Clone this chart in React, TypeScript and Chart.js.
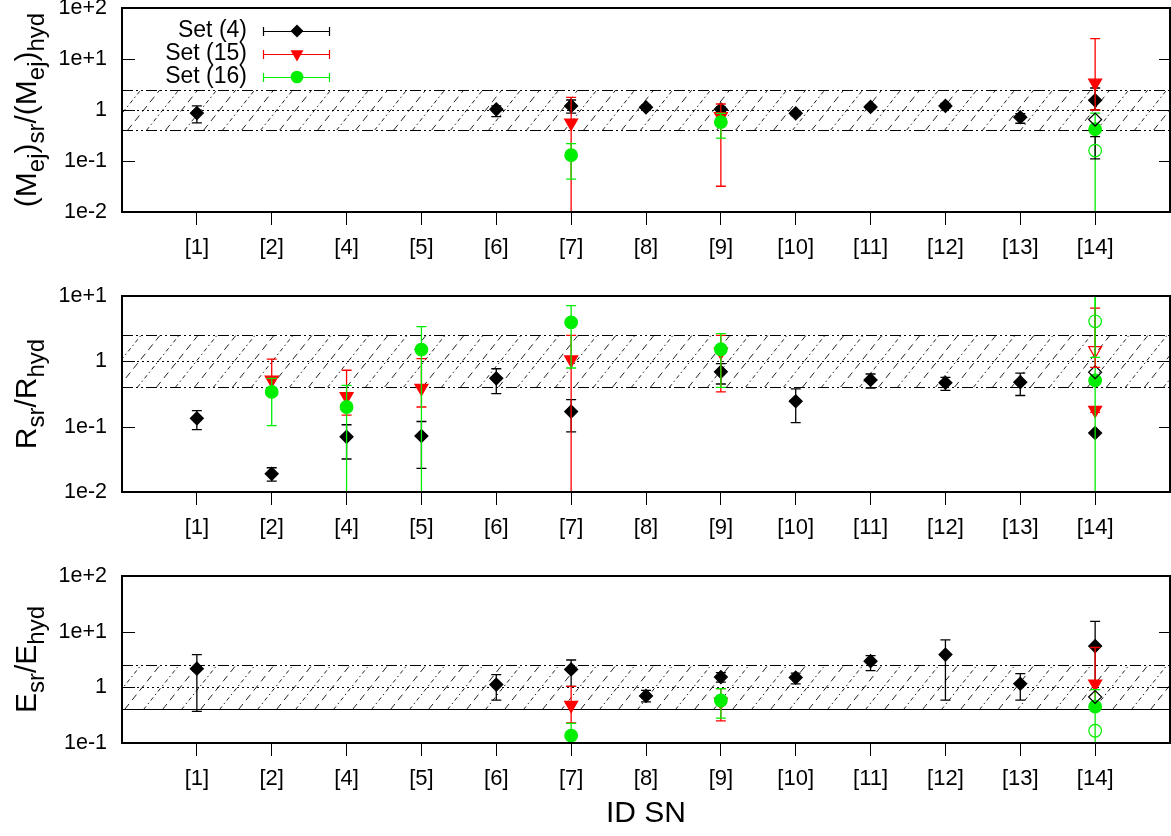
import React, { useEffect, useRef } from 'react';
import { Chart, registerables } from 'chart.js';

Chart.register(...registerables);

const FONT = '"Liberation Sans", Arial, Helvetica, sans-serif';

// ---------- categories & ticks ----------
const categories = ['[1]', '[2]', '[4]', '[5]', '[6]', '[7]', '[8]', '[9]', '[10]', '[11]', '[12]', '[13]', '[14]'];
const mTickValues = [0.01, 0.1, 1, 10, 100];
const mTickLabels = ['1e-2', '1e-1', '1', '1e+1', '1e+2'];
const rTickValues = [0.01, 0.1, 1, 10];
const rTickLabels = ['1e-2', '1e-1', '1', '1e+1'];
const eTickValues = [0.1, 1, 10, 100];
const eTickLabels = ['1e-1', '1', '1e+1', '1e+2'];
const legendLabels = ['Set (4)', 'Set (15)', 'Set (16)'];
const xTitle = 'ID SN';
const bandLow = 0.4;
const bandMid = 1;
const bandHigh = 2.5;

// ---------- panel 1 : (Mej)sr/(Mej)hyd ----------
const mSet4 = [0.87, null, null, null, 1.03, 1.2, 1.13, 1.03, 0.86, 1.15, 1.2, 0.72, 1.55];
const mSet4Lo = [0.56, null, null, null, 0.74, 0.87, 1.0, 0.9, 0.78, 1.05, 1.1, 0.55, 1.0];
const mSet4Hi = [1.2, null, null, null, 1.2, 1.57, 1.25, 1.15, 0.95, 1.25, 1.35, 0.85, 2.7];
const mSet15 = [null, null, null, null, null, 0.56, null, 0.75, null, null, null, null, 3.4];
const mSet15Lo = [null, null, null, null, null, 0.001, null, 0.032, null, null, null, null, 1.0];
const mSet15Hi = [null, null, null, null, null, 1.77, null, 1.31, null, null, null, null, 25];
const mSet16 = [null, null, null, null, null, 0.13, null, 0.58, null, null, null, null, 0.42];
const mSet16Lo = [null, null, null, null, null, 0.044, null, 0.28, null, null, null, null, 0.001];
const mSet16Hi = [null, null, null, null, null, 0.22, null, 0.86, null, null, null, null, 0.87];
const mOpen4 = [null, null, null, null, null, null, null, null, null, null, null, null, 0.65];
const mOpen16 = [null, null, null, null, null, null, null, null, null, null, null, null, 0.16];
const mOpen16Lo = [null, null, null, null, null, null, null, null, null, null, null, null, 0.11];
const mOpen16Hi = [null, null, null, null, null, null, null, null, null, null, null, null, 0.3];

// ---------- panel 2 : Rsr/Rhyd ----------
const rSet4 = [0.134, 0.019, 0.07, 0.072, 0.55, 0.17, null, 0.69, 0.245, 0.52, 0.47, 0.48, 0.08];
const rSet4Lo = [0.09, 0.0147, 0.032, 0.023, 0.32, 0.083, null, 0.45, 0.115, 0.39, 0.36, 0.3, null];
const rSet4Hi = [0.176, 0.0235, 0.107, 0.12, 0.77, 0.26, null, 0.92, 0.38, 0.64, 0.57, 0.66, null];
const rSet15 = [null, 0.52, 0.29, 0.39, null, 1.06, null, 1.4, null, null, null, null, 0.18];
const rSet15Lo = [null, 0.35, 0.15, 0.2, null, 0.001, null, 0.34, null, null, null, null, 0.166];
const rSet15Hi = [null, 1.08, 0.73, 1.1, null, 2.5, null, 2.5, null, null, null, null, 0.2];
const rSet16 = [null, 0.34, 0.2, 1.51, null, 3.94, null, 1.53, null, null, null, null, 0.51];
const rSet16Lo = [null, 0.104, 0.001, 0.001, null, 0.79, null, 0.4, null, null, null, null, 0.001];
const rSet16Hi = [null, 0.55, 0.43, 3.4, null, 7.1, null, 2.66, null, null, null, null, 100];
const rOpen4 = [null, null, null, null, null, null, null, null, null, null, null, null, 0.68];
const rOpen15 = [null, null, null, null, null, null, null, null, null, null, null, null, 1.47];
const rOpen15Lo = [null, null, null, null, null, null, null, null, null, null, null, null, 0.81];
const rOpen15Hi = [null, null, null, null, null, null, null, null, null, null, null, null, 6.5];
const rOpen16 = [null, null, null, null, null, null, null, null, null, null, null, null, 4.1];
const rOpen16Lo = [null, null, null, null, null, null, null, null, null, null, null, null, 1.15];
const rOpen16Hi = [null, null, null, null, null, null, null, null, null, null, null, null, 100];

// ---------- panel 3 : Esr/Ehyd ----------
const eSet4 = [2.16, null, null, null, 1.12, 2.1, 0.7, 1.53, 1.5, 2.95, 3.88, 1.16, 5.5];
const eSet4Lo = [0.37, null, null, null, 0.59, 1.04, 0.55, 1.24, 1.15, 2.0, 0.59, 0.59, 1.2];
const eSet4Hi = [3.88, null, null, null, 1.69, 3.1, 0.88, 1.83, 1.8, 3.7, 7.1, 1.76, 15.3];
const eSet15 = [null, null, null, null, null, 0.48, null, 0.55, null, null, null, null, 1.16];
const eSet15Lo = [null, null, null, null, null, 0.23, null, 0.25, null, null, null, null, 0.52];
const eSet15Hi = [null, null, null, null, null, 1.04, null, 0.95, null, null, null, null, 5.2];
const eSet16 = [null, null, null, null, null, 0.135, null, 0.58, null, null, null, null, 0.45];
const eSet16Lo = [null, null, null, null, null, 0.01, null, 0.28, null, null, null, null, 0.01];
const eSet16Hi = [null, null, null, null, null, 0.225, null, 0.95, null, null, null, null, 0.91];
const eOpen4 = [null, null, null, null, null, null, null, null, null, null, null, null, 0.67];
const eOpen16 = [null, null, null, null, null, null, null, null, null, null, null, null, 0.166];

const none = categories.map(() => null);

type Part = { t: string; sub?: boolean };
const mTitle: Part[] = [{ t: '(M' }, { t: 'ej', sub: true }, { t: ')' }, { t: 'sr', sub: true }, { t: '/(M' }, { t: 'ej', sub: true }, { t: ')' }, { t: 'hyd', sub: true }];
const rTitle: Part[] = [{ t: 'R' }, { t: 'sr', sub: true }, { t: '/R' }, { t: 'hyd', sub: true }];
const eTitle: Part[] = [{ t: 'E' }, { t: 'sr', sub: true }, { t: '/E' }, { t: 'hyd', sub: true }];

// ---------- styles ----------
const RED = '#ff0000';
const GREEN = '#00ee00';
const BLACK = '#000000';
const styles: Record<string, any> = {
  s4: { pointStyle: 'rectRot', radius: 6.5, rotation: 0, color: BLACK, hollow: false },
  s15: { pointStyle: 'triangle', radius: 7.5, rotation: 180, color: RED, hollow: false },
  s16: { pointStyle: 'circle', radius: 6.3, rotation: 0, color: GREEN, hollow: false },
  o4: { pointStyle: 'rectRot', radius: 6.5, rotation: 0, color: BLACK, hollow: true },
  o15: { pointStyle: 'triangle', radius: 7.5, rotation: 180, color: RED, hollow: true },
  o16: { pointStyle: 'circle', radius: 6.3, rotation: 0, color: GREEN, hollow: true },
};

function pts(values: any[], lo: any[], hi: any[]) {
  const out: any[] = [];
  values.forEach((v, i) => {
    if (v == null) return;
    out.push({ x: i + 1, y: v, lo: lo[i], hi: hi[i] });
  });
  return out;
}

function ds(label: string, key: string, values: any[], lo: any[], hi: any[], order: number, errColor?: string) {
  const s = styles[key];
  return {
    type: 'scatter',
    label,
    data: pts(values, lo, hi),
    showLine: false,
    pointStyle: s.pointStyle,
    pointRadius: s.radius,
    pointRotation: s.rotation,
    pointBackgroundColor: s.hollow ? 'rgba(0,0,0,0)' : s.color,
    pointBorderColor: s.color,
    pointBorderWidth: 1.2,
    errColor: errColor || s.color,
    order,
  };
}

const panels = [
  {
    id: 'm', top: 0, height: 270, areaTop: 8, areaBottom: 212,
    yMin: 0.01, yMax: 100, tickValues: mTickValues, tickLabels: mTickLabels, title: mTitle,
    legend: true, showXTitle: false, solidBottom: false,
    datasets: [
      ds(legendLabels[0], 's4', mSet4, mSet4Lo, mSet4Hi, 5),
      ds(legendLabels[1], 's15', mSet15, mSet15Lo, mSet15Hi, 4),
      ds(legendLabels[2], 's16', mSet16, mSet16Lo, mSet16Hi, 3),
      ds('open 4', 'o4', mOpen4, none, none, 2),
      ds('open 16', 'o16', mOpen16, mOpen16Lo, mOpen16Hi, 0, BLACK),
    ],
  },
  {
    id: 'r', top: 270, height: 280, areaTop: 296, areaBottom: 492,
    yMin: 0.01, yMax: 10, tickValues: rTickValues, tickLabels: rTickLabels, title: rTitle,
    legend: false, showXTitle: false, solidBottom: false,
    datasets: [
      ds(legendLabels[0], 's4', rSet4, rSet4Lo, rSet4Hi, 5),
      ds(legendLabels[1], 's15', rSet15, rSet15Lo, rSet15Hi, 4),
      ds(legendLabels[2], 's16', rSet16, rSet16Lo, rSet16Hi, 3),
      ds('open 4', 'o4', rOpen4, none, none, 2),
      ds('open 15', 'o15', rOpen15, rOpen15Lo, rOpen15Hi, 1),
      ds('open 16', 'o16', rOpen16, rOpen16Lo, rOpen16Hi, 0),
    ],
  },
  {
    id: 'e', top: 550, height: 286, areaTop: 576, areaBottom: 743,
    yMin: 0.1, yMax: 100, tickValues: eTickValues, tickLabels: eTickLabels, title: eTitle,
    legend: false, showXTitle: true, solidBottom: true,
    datasets: [
      ds(legendLabels[0], 's4', eSet4, eSet4Lo, eSet4Hi, 5),
      ds(legendLabels[1], 's15', eSet15, eSet15Lo, eSet15Hi, 4),
      ds(legendLabels[2], 's16', eSet16, eSet16Lo, eSet16Hi, 3),
      ds('open 4', 'o4', eOpen4, none, none, 2),
      ds('open 16', 'o16', eOpen16, none, none, 0),
    ],
  },
];

// ---------- drawing helpers ----------
function drawRich(ctx: CanvasRenderingContext2D, parts: Part[], x: number, cy: number) {
  const size = 30, subSize = 24, shift = 8;
  const fontOf = (sub?: boolean) => `${sub ? subSize : size}px ${FONT}`;
  ctx.save();
  ctx.translate(x, cy);
  ctx.rotate(-Math.PI / 2);
  let total = 0;
  for (const p of parts) { ctx.font = fontOf(p.sub); total += ctx.measureText(p.t).width; }
  let pos = -total / 2;
  ctx.fillStyle = '#000';
  ctx.textAlign = 'left';
  ctx.textBaseline = 'alphabetic';
  for (const p of parts) {
    ctx.font = fontOf(p.sub);
    ctx.fillText(p.t, pos, p.sub ? shift : 0);
    pos += ctx.measureText(p.t).width;
  }
  ctx.restore();
}

function drawMarker(ctx: CanvasRenderingContext2D, key: string, x: number, y: number) {
  const s = styles[key];
  const r = s.radius;
  ctx.beginPath();
  if (s.pointStyle === 'rectRot') {
    ctx.moveTo(x - r, y); ctx.lineTo(x, y - r); ctx.lineTo(x + r, y); ctx.lineTo(x, y + r); ctx.closePath();
  } else if (s.pointStyle === 'triangle') {
    const h = r * Math.sqrt(3) / 2;
    ctx.moveTo(x - h, y - r / 2); ctx.lineTo(x + h, y - r / 2); ctx.lineTo(x, y + r); ctx.closePath();
  } else {
    ctx.arc(x, y, r, 0, Math.PI * 2);
  }
  ctx.fillStyle = s.color;
  ctx.fill();
}

function drawBand(ctx: CanvasRenderingContext2D, a: any, ys: any, solidBottom: boolean) {
  const yT = ys.getPixelForValue(bandHigh);
  const yB = ys.getPixelForValue(bandLow);
  const yM = ys.getPixelForValue(bandMid);
  const h = yB - yT;
  ctx.save();
  ctx.beginPath();
  ctx.rect(a.left, yT, a.right - a.left, h);
  ctx.clip();
  ctx.lineWidth = 1;
  ctx.strokeStyle = '#222';
  const slope = 0.8, step = 19;
  let k = 0;
  for (let x0 = a.left - h * slope - step * 2; x0 < a.right + step; x0 += step, k++) {
    ctx.setLineDash(k % 2 === 0 ? [7, 5] : [4, 3, 1.5, 3]);
    ctx.beginPath();
    ctx.moveTo(x0, yB);
    ctx.lineTo(x0 + h * slope, yT);
    ctx.stroke();
  }
  ctx.restore();
  ctx.save();
  ctx.strokeStyle = '#000';
  ctx.lineWidth = 1;
  const hl = (y: number, dash: number[]) => {
    ctx.setLineDash(dash);
    ctx.beginPath();
    ctx.moveTo(a.left, Math.round(y) + 0.5);
    ctx.lineTo(a.right, Math.round(y) + 0.5);
    ctx.stroke();
  };
  const dd = [11, 3, 2, 3, 2, 3];
  hl(yT, dd);
  hl(yM, [2, 3]);
  hl(yB, solidBottom ? [] : dd);
  ctx.restore();
}

function makePlugin(panel: any) {
  return {
    id: 'panel_' + panel.id,
    beforeDatasetsDraw(chart: any) {
      drawBand(chart.ctx, chart.chartArea, chart.scales.y, panel.solidBottom);
    },
    beforeDatasetDraw(chart: any, args: any) {
      const d: any = chart.data.datasets[args.index];
      const ctx = chart.ctx, a = chart.chartArea;
      const xs = chart.scales.x, ys = chart.scales.y;
      ctx.save();
      ctx.beginPath();
      ctx.rect(a.left, a.top, a.right - a.left, a.bottom - a.top);
      ctx.clip();
      ctx.strokeStyle = d.errColor;
      ctx.lineWidth = 1.3;
      for (const p of d.data) {
        if (p.lo == null || p.hi == null) continue;
        const x = xs.getPixelForValue(p.x);
        const y1 = ys.getPixelForValue(p.lo);
        const y2 = ys.getPixelForValue(p.hi);
        ctx.beginPath();
        ctx.moveTo(x, y1); ctx.lineTo(x, y2);
        ctx.moveTo(x - 5, y1); ctx.lineTo(x + 5, y1);
        ctx.moveTo(x - 5, y2); ctx.lineTo(x + 5, y2);
        ctx.stroke();
      }
      ctx.restore();
    },
    afterDraw(chart: any) {
      const ctx = chart.ctx, a = chart.chartArea, ys = chart.scales.y;
      ctx.save();
      ctx.strokeStyle = '#000';
      ctx.lineWidth = 1;
      for (const v of panel.tickValues) {
        const y = Math.round(ys.getPixelForValue(v)) + 0.5;
        ctx.beginPath();
        ctx.moveTo(a.left, y); ctx.lineTo(a.left + 13, y);
        ctx.moveTo(a.right - 11, y); ctx.lineTo(a.right, y);
        ctx.stroke();
      }
      ctx.lineWidth = 2;
      ctx.strokeRect(a.left, a.top, a.right - a.left, a.bottom - a.top);
      ctx.restore();
      drawRich(ctx, panel.title, 36, (a.top + a.bottom) / 2);
      if (panel.legend) {
        const keys = ['s4', 's15', 's16'];
        const rows = [31, 54, 77];
        ctx.save();
        keys.forEach((k, i) => {
          const y = rows[i];
          ctx.font = `23px ${FONT}`;
          ctx.fillStyle = '#000';
          ctx.textAlign = 'right';
          ctx.textBaseline = 'middle';
          ctx.fillText(legendLabels[i], 247, y);
          ctx.strokeStyle = styles[k].color;
          ctx.lineWidth = 1.2;
          ctx.beginPath();
          ctx.moveTo(263, y + 0.5); ctx.lineTo(330, y + 0.5);
          ctx.moveTo(263.5, y - 4); ctx.lineTo(263.5, y + 5);
          ctx.moveTo(329.5, y - 4); ctx.lineTo(329.5, y + 5);
          ctx.stroke();
          drawMarker(ctx, k, 297, y);
        });
        ctx.restore();
      }
    },
  };
}

function makeConfig(panel: any): any {
  return {
    type: 'scatter',
    data: { datasets: panel.datasets },
    plugins: [makePlugin(panel)],
    options: {
      responsive: false,
      animation: false,
      devicePixelRatio: 1,
      events: [],
      layout: { autoPadding: false, padding: { top: panel.areaTop - panel.top, left: 0, right: 1, bottom: 0 } },
      plugins: { legend: { display: false }, tooltip: { enabled: false }, title: { display: false } },
      scales: {
        x: {
          type: 'linear',
          min: 0,
          max: 14,
          afterBuildTicks: (s: any) => { s.ticks = categories.map((_, i) => ({ value: i + 1 })); },
          afterFit: (s: any) => {
            s.height = panel.height - (panel.areaBottom - panel.top);
            s.paddingLeft = 0; s.paddingRight = 0;
          },
          ticks: {
            autoSkip: false,
            maxRotation: 0,
            minRotation: 0,
            padding: 10,
            color: '#000',
            font: { family: FONT, size: 22 },
            callback: (v: number) => categories[Math.round(v) - 1] ?? '',
          },
          grid: { display: true, drawOnChartArea: false, drawTicks: true, tickLength: 13, color: '#000', tickColor: '#000', lineWidth: 1 },
          border: { display: false },
          title: {
            display: panel.showXTitle,
            text: xTitle,
            color: '#000',
            font: { family: FONT, size: 30 },
            padding: { top: 0, bottom: 4 },
          },
        },
        y: {
          type: 'logarithmic',
          min: panel.yMin,
          max: panel.yMax,
          afterBuildTicks: (s: any) => { s.ticks = panel.tickValues.map((v: number) => ({ value: v })); },
          afterFit: (s: any) => { s.width = 122; s.paddingTop = 0; s.paddingBottom = 0; },
          ticks: {
            autoSkip: false,
            padding: 15,
            color: '#000',
            font: { family: FONT, size: 21.5 },
            callback: (v: number) => {
              const idx = panel.tickValues.findIndex((t: number) => Math.abs(t - v) / t < 1e-6);
              return idx >= 0 ? panel.tickLabels[idx] : '';
            },
          },
          grid: { display: false, drawTicks: false },
          border: { display: false },
        },
      },
    },
  };
}

export default function App() {
  const r0 = useRef<HTMLCanvasElement>(null);
  const r1 = useRef<HTMLCanvasElement>(null);
  const r2 = useRef<HTMLCanvasElement>(null);
  const refs = [r0, r1, r2];

  useEffect(() => {
    const charts = panels.map((p, i) => new Chart(refs[i].current as HTMLCanvasElement, makeConfig(p)));
    return () => charts.forEach((c) => c.destroy());
  }, []);

  return (
    <div style={{ position: 'fixed', left: 0, top: 0, width: 1171, height: 836, background: '#fff', overflow: 'hidden' }}>
      {panels.map((p, i) => (
        <canvas
          key={p.id}
          ref={refs[i]}
          width={1171}
          height={p.height}
          style={{ position: 'absolute', left: 0, top: p.top, width: 1171, height: p.height, display: 'block' }}
        />
      ))}
    </div>
  );
}
